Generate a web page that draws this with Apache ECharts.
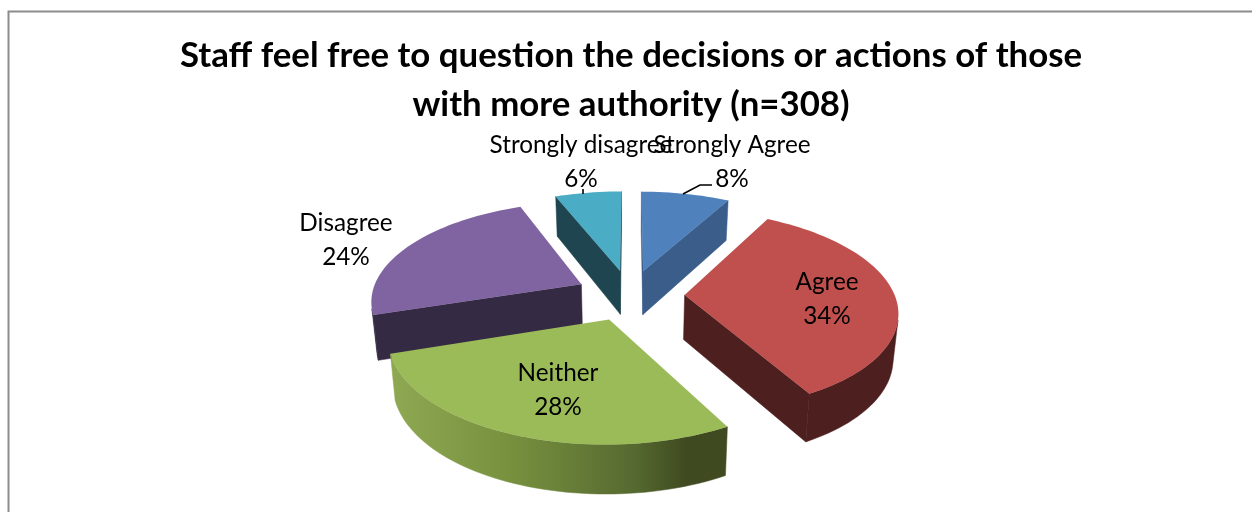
<!DOCTYPE html>
<html>
<head>
<meta charset="utf-8">
<style>html,body{margin:0;padding:0;background:#fff}#chart{width:1252px;height:512px}</style>
<script src="https://cdn.jsdelivr.net/npm/echarts@6/dist/echarts.min.js"></script>
</head>
<body>
<div id="chart"></div>
<script>
// Survey responses, in percent, clockwise from twelve o'clock.
const categories = ['Strongly Agree', 'Agree', 'Neither', 'Disagree', 'Strongly disagree'];
const percents = [8, 34, 28, 24, 6];

const topColors = ['#4f81bd', '#c0504d', '#9bbb59', '#8064a2', '#4bacc6'];
const wallColors = ['#3a5d8a', '#4d1f1f', '#3f4a20', '#352a44', '#1f4650'];

// Label centres in page pixels, one per category.
const labelCentres = [[732, 162], [827, 299], [558, 390], [346, 240], [581, 162]];
// Short leader strokes tying the outside labels to their slices.
const leaders = [[[712, 185], [700, 185], [683, 194]], null, null, null, [[583, 189], [583, 194]]];

// Tilted-disc projection: unit disc (u right, v towards the viewer) to page pixels.
const view = { cx: 630, cy: 295, a: 210, b: 98, k: 0.15, explode: 0.26, depth: 44.5, depthSlope: 4, floorScale: 0.98 };

function project(u, v) {
  const w = 1 - view.k * v;
  return [view.cx + view.a * u / w, view.cy + view.b * v / w];
}
function projectFloor(u, v) {
  const p = project(u, v);
  return [view.cx + (p[0] - view.cx) * view.floorScale, p[1] + view.depth + view.depthSlope * v];
}
function shoelace(pts) {
  let s = 0;
  pts.forEach((p, i) => { const q = pts[(i + 1) % pts.length]; s += p[0] * q[1] - q[0] * p[1]; });
  return s;
}

const total = percents.reduce((s, x) => s + x, 0);
const starts = percents.map((_, i) => percents.slice(0, i).reduce((s, x) => s + x, 0));

function sliceRim(i) {
  const from = starts[i] / total * 2 * Math.PI;
  const sweep = percents[i] / total * 2 * Math.PI;
  const mid = from + sweep / 2;
  const ox = view.explode * Math.sin(mid);
  const oy = -view.explode * Math.cos(mid);
  const steps = Math.max(8, Math.round(percents[i] * 2));
  const rim = [];
  for (let s = 0; s <= steps; s++) {
    const t = from + sweep * s / steps;
    rim.push([ox + Math.sin(t), oy - Math.cos(t)]);
  }
  return { apex: [ox, oy], rim };
}

// A stretch of boundary extruded down to the floor, as one polygon.
function extrude(path) {
  return path.map(p => project(p[0], p[1])).concat(path.slice().reverse().map(p => projectFloor(p[0], p[1])));
}

function renderSlice(params, api) {
  const i = api.value(0);
  const { apex, rim } = sliceRim(i);
  const children = [];
  const addSide = (path, fill) => {
    children.push({ type: 'polygon', shape: { points: extrude(path) }, style: { fill: fill, stroke: fill, lineWidth: 0.5 } });
  };

  // Straight walls, kept only when they face the viewer.
  [[apex, rim[0]], [rim[rim.length - 1], apex]].forEach(edge => {
    if (shoelace(extrude(edge)) < 0) addSide(edge, wallColors[i]);
  });

  // The part of the curved rim that faces the viewer.
  const front = [];
  rim.forEach((p, j) => {
    if (j < rim.length - 1 && shoelace(extrude([p, rim[j + 1]])) < 0) {
      if (!front.length) front.push(p);
      front.push(rim[j + 1]);
    }
  });
  if (front.length) {
    let fill = wallColors[i];
    // The front of the Neither slice is shaded from left to right as a single sweep.
    if (categories[i] === 'Neither') {
      const xs = front.map(p => project(p[0], p[1])[0]);
      fill = new echarts.graphic.LinearGradient(Math.min.apply(null, xs), 0, Math.max.apply(null, xs), 0, [
        { offset: 0, color: '#8fa852' },
        { offset: 0.35, color: '#78913f' },
        { offset: 0.72, color: '#566a30' },
        { offset: 0.88, color: '#3f4a20' },
        { offset: 1, color: '#3f4a20' }
      ], true);
    }
    addSide(front, fill);
  }

  children.push({
    type: 'polygon',
    shape: { points: [apex].concat(rim).map(p => project(p[0], p[1])) },
    style: { fill: topColors[i] }
  });
  return { type: 'group', children };
}

function renderLabel(params, api) {
  const i = api.value(0);
  const children = [];
  if (leaders[i]) {
    children.push({ type: 'polyline', shape: { points: leaders[i] }, style: { fill: 'none', stroke: '#000', lineWidth: 1.6 } });
  }
  children.push({
    type: 'text',
    style: {
      x: labelCentres[i][0], y: labelCentres[i][1],
      text: categories[i] + '\n' + percents[i] + '%',
      align: 'center', verticalAlign: 'middle',
      font: '24.3px Lato', lineHeight: 34, fill: '#000'
    }
  });
  return { type: 'group', children };
}

// Back-to-front paint order so nearer slices cover farther ones.
const paintOrder = categories
  .map((_, i) => i)
  .sort((a, b) => sliceRim(a).apex[1] - sliceRim(b).apex[1]);

const chart = echarts.init(document.getElementById('chart'), null, { renderer: 'canvas' });
chart.setOption({
  animation: false,
  backgroundColor: '#fff',
  title: {
    text: 'Staff feel free to question the decisions or actions of those\nwith more authority (n=308)',
    left: 626, top: 26, textAlign: 'center',
    textStyle: { fontFamily: 'Lato', fontWeight: 'bold', fontSize: 34.8, lineHeight: 49, color: '#000' }
  },
  graphic: [{
    type: 'rect', z: -1,
    shape: { x: 8.5, y: 11.5, width: 1400, height: 600 },
    style: { fill: 'none', stroke: '#8c8c8c', lineWidth: 2 }
  }],
  series: [
    { type: 'custom', coordinateSystem: 'none', data: paintOrder.map(i => [i]), renderItem: renderSlice, silent: true, z: 2 },
    { type: 'custom', coordinateSystem: 'none', data: categories.map((_, i) => [i]), renderItem: renderLabel, silent: true, z: 3 }
  ]
});
</script>
</body>
</html>
